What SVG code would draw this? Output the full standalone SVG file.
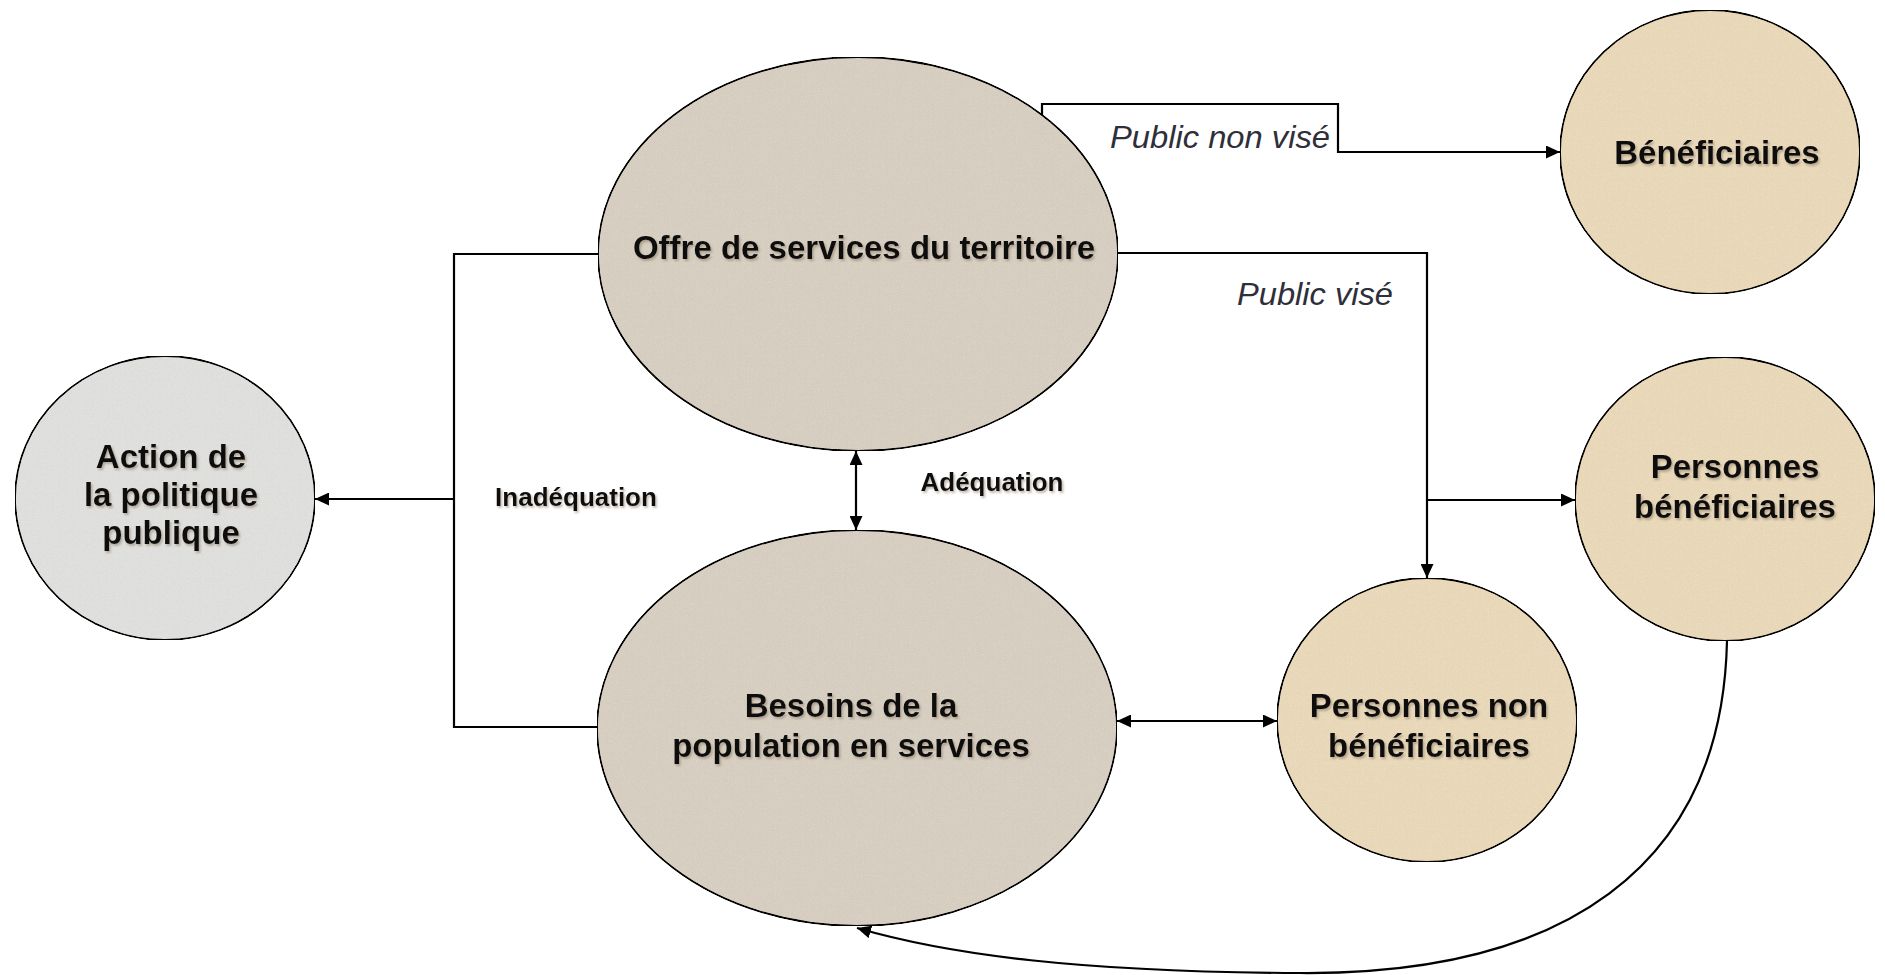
<svg xmlns="http://www.w3.org/2000/svg" width="1885" height="975" viewBox="0 0 1885 975">
<style>
.node{stroke:#1a1a1a;stroke-width:1.8}
.gray{fill:#dcd4c7}
.light{fill:#e4e4e2}
.tan{fill:#eddec0}
.lbl{font-family:"Liberation Sans",Arial,sans-serif;font-weight:bold;font-size:33px;fill:#111;text-anchor:middle;filter:url(#shadow)}
.small{font-family:"Liberation Sans",Arial,sans-serif;font-weight:bold;font-size:26px;fill:#111;text-anchor:middle;filter:url(#shadow)}
.it{font-family:"Liberation Sans",Arial,sans-serif;font-style:italic;font-size:32px;fill:#2f2f3a}
.conn{fill:none;stroke:#000;stroke-width:2.2}
</style>
<defs>
<marker id="arr" markerUnits="userSpaceOnUse" markerWidth="15" markerHeight="13" refX="14" refY="6.5" orient="auto-start-reverse">
<path d="M0,0 L14,6.5 L0,13 z" fill="#000"/>
</marker>
<filter id="grain" x="0" y="0" width="100%" height="100%">
<feTurbulence type="fractalNoise" baseFrequency="0.85" numOctaves="2" seed="3" result="n"/>
<feColorMatrix in="n" type="saturate" values="0" result="g"/>
<feComposite in="SourceGraphic" in2="g" operator="arithmetic" k1="0" k2="1" k3="0.2" k4="-0.1" result="m"/>
<feComposite in="m" in2="SourceGraphic" operator="in"/>
</filter>
<filter id="shadow" x="-5%" y="-20%" width="110%" height="150%">
<feDropShadow dx="1.5" dy="2" stdDeviation="1.2" flood-color="#8a7a66" flood-opacity="0.55"/>
</filter>
</defs>
<rect width="1885" height="975" fill="#fff"/>
<g id="connectors">
<path class="conn" d="M1042,135 V104 H1338 V152 H1560" marker-end="url(#arr)"/>
<path class="conn" d="M1110,253 H1427 V578" marker-end="url(#arr)"/>
<path class="conn" d="M1427,500 H1575" marker-end="url(#arr)"/>
<path class="conn" d="M600,254 H454 V727 H600"/>
<path class="conn" d="M454,499 H315" marker-end="url(#arr)"/>
<path class="conn" d="M856,451 V530" marker-start="url(#arr)" marker-end="url(#arr)"/>
<path class="conn" d="M1117,721 H1277" marker-start="url(#arr)" marker-end="url(#arr)"/>
<path class="conn" d="M1727,641 C1722,870 1560,975 1300,973 C1080,972 950,955 857,928" marker-end="url(#arr)"/>
<text class="it" x="1110" y="148" textLength="220" lengthAdjust="spacingAndGlyphs">Public non visé</text>
<text class="it" x="1237" y="305" textLength="156" lengthAdjust="spacingAndGlyphs">Public visé</text>
<text class="small" x="576" y="506">Inadéquation</text>
<text class="small" x="992" y="491">Adéquation</text>
</g>
<g id="offre">
<ellipse class="node gray" cx="858" cy="254" rx="260" ry="197" filter="url(#grain)"/>
<text class="lbl" x="864" y="259">Offre de services du territoire</text>
</g>
<g id="besoins">
<ellipse class="node gray" cx="857" cy="728" rx="260" ry="198" filter="url(#grain)"/>
<text class="lbl" x="851" y="717">Besoins de la</text>
<text class="lbl" x="851" y="757">population en services</text>
</g>
<g id="action">
<ellipse class="node light" cx="165" cy="498" rx="150" ry="142" filter="url(#grain)"/>
<text class="lbl" x="171" y="468">Action de</text>
<text class="lbl" x="171" y="506">la politique</text>
<text class="lbl" x="171" y="544">publique</text>
</g>
<g id="beneficiaires">
<ellipse class="node tan" cx="1710" cy="152" rx="150" ry="142" filter="url(#grain)"/>
<text class="lbl" x="1717" y="164">Bénéficiaires</text>
</g>
<g id="personnes-beneficiaires">
<ellipse class="node tan" cx="1725" cy="499" rx="150" ry="142" filter="url(#grain)"/>
<text class="lbl" x="1735" y="478">Personnes</text>
<text class="lbl" x="1735" y="518">bénéficiaires</text>
</g>
<g id="personnes-non-beneficiaires">
<ellipse class="node tan" cx="1427" cy="720" rx="150" ry="142" filter="url(#grain)"/>
<text class="lbl" x="1429" y="717">Personnes non</text>
<text class="lbl" x="1429" y="757">bénéficiaires</text>
</g>
</svg>
